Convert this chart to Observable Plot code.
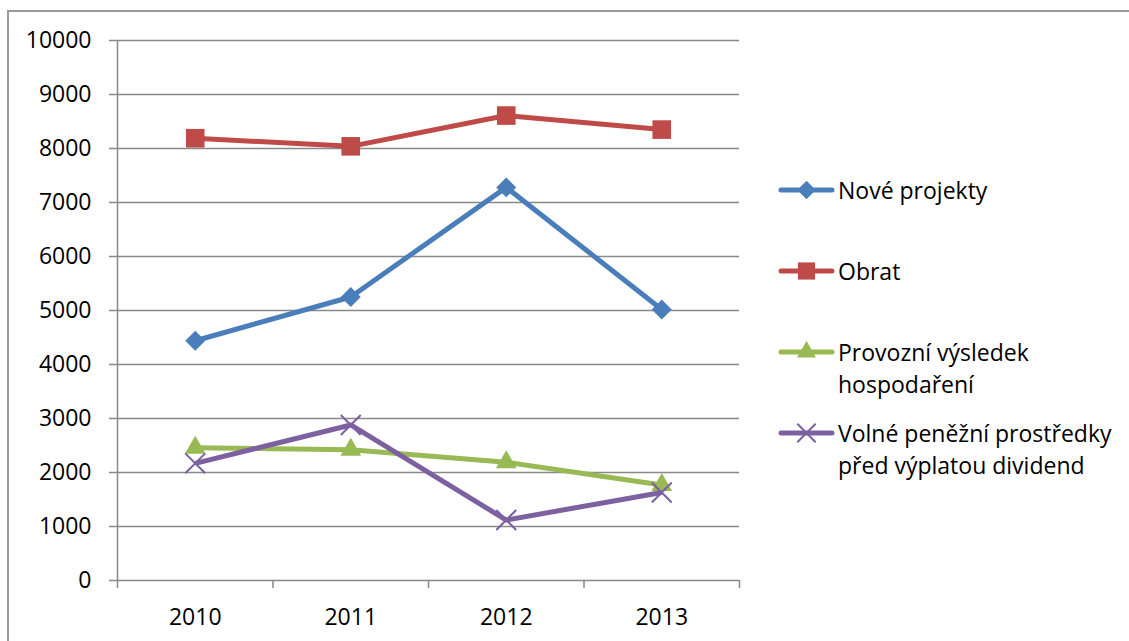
<!DOCTYPE html>
<html>
<head>
<meta charset="utf-8">
<script src="https://cdn.jsdelivr.net/npm/d3@7"></script>
<script src="https://cdn.jsdelivr.net/npm/@observablehq/plot@0.6"></script>
<style>
  html, body { margin: 0; padding: 0; background: #fff; overflow: hidden; }
  #wrap { position: relative; width: 1129px; height: 641px; overflow: hidden; background: #fff; }
  #border { position: absolute; left: 7px; top: 10px; width: 1200px; height: 700px; border-left: 2px solid #9a9a9a; border-top: 2px solid #9a9a9a; box-sizing: border-box; }
  #chart { position: absolute; left: 0; top: 0; }
  #legend { position: absolute; left: 778px; top: 174px; font-family: "Open Sans", sans-serif; font-size: 23px; line-height: 32px; color: #000; }
  .item { display: flex; align-items: flex-start; height: 81px; }
  .item svg { flex: none; }
  .item span { margin-left: 3px; white-space: nowrap; }
</style>
</head>
<body>
<div id="wrap">
  <div id="border"></div>
  <div id="chart"></div>
  <div id="legend"></div>
</div>
<script>
// Data
const categories = ["2010", "2011", "2012", "2013"];
const seriesNames = ["Nové projekty", "Obrat", "Provozní výsledek hospodaření", "Volné peněžní prostředky před výplatou dividend"];
const legendLines = [["Nové projekty"], ["Obrat"], ["Provozní výsledek", "hospodaření"], ["Volné peněžní prostředky", "před výplatou dividend"]];
const noveProjekty = [4440, 5250, 7280, 5020];
const obrat = [8190, 8040, 8610, 8350];
const provozniVysledek = [2460, 2420, 2190, 1770];
const volnePenezniProstredky = [2170, 2880, 1120, 1630];
const yTicks = [0, 1000, 2000, 3000, 4000, 5000, 6000, 7000, 8000, 9000, 10000];

const seriesValues = [noveProjekty, obrat, provozniVysledek, volnePenezniProstredky];
const colors = ["#4a7ebb", "#be4b48", "#98b954", "#7d60a0"];
const symbols = ["diamond2", "square", "triangle2", "times"];
const symbolR = [9, 10.5, 9.9, 9.1];
const d3Symbols = [d3.symbolDiamond2, d3.symbolSquare, d3.symbolTriangle2, d3.symbolTimes];

const rows = [];
seriesValues.forEach((vals, s) => vals.forEach((v, i) => rows.push({series: seriesNames[s], s, i, v})));

const gridColor = "#898989";
const marks = [
  Plot.ruleY(yTicks, {stroke: gridColor, strokeWidth: 1.5}),
  Plot.ruleX([-0.5], {stroke: gridColor, strokeWidth: 1.5}),
  Plot.axisY({ticks: yTicks, tickSize: 8, tickPadding: 18, tickFormat: d => String(d), stroke: gridColor, strokeWidth: 1.5, fill: "#000", label: null}),
  Plot.axisX({ticks: [-0.5, 0.5, 1.5, 2.5, 3.5], tickSize: 8, tickFormat: () => "", stroke: gridColor, strokeWidth: 1.5, label: null}),
  Plot.axisX({ticks: [0, 1, 2, 3], tickSize: 0, tickPadding: 28, tickFormat: i => categories[i], fill: "#000", label: null})
];
seriesNames.forEach((name, s) => {
  const data = rows.filter(d => d.s === s);
  marks.push(Plot.line(data, {x: "i", y: "v", stroke: colors[s], strokeWidth: 5, strokeLinejoin: "round", strokeLinecap: "butt"}));
  if (symbols[s] === "times") {
    marks.push(Plot.dot(data, {x: "i", y: "v", symbol: symbols[s], r: symbolR[s], stroke: colors[s], strokeWidth: 2, fill: "none"}));
  } else {
    marks.push(Plot.dot(data, {x: "i", y: "v", symbol: symbols[s], r: symbolR[s], fill: colors[s], stroke: "none"}));
  }
});

const chart = Plot.plot({
  width: 1129,
  height: 641,
  marginLeft: 117,
  marginRight: 390,
  marginTop: 40,
  marginBottom: 61,
  style: {fontFamily: "Open Sans, sans-serif", fontSize: "23px", color: "#000", background: "transparent", overflow: "visible"},
  x: {type: "linear", domain: [-0.5, 3.5], axis: null},
  y: {domain: [0, 10000], axis: null},
  marks
});
document.getElementById("chart").appendChild(chart);

// Legend
const legend = document.getElementById("legend");
seriesNames.forEach((name, s) => {
  const item = document.createElement("div");
  item.className = "item";
  const svg = d3.create("svg").attr("width", 57).attr("height", 32);
  svg.append("line").attr("x1", 3).attr("x2", 54).attr("y1", 16).attr("y2", 16)
    .attr("stroke", colors[s]).attr("stroke-width", 5).attr("stroke-linecap", "round");
  const size = Math.PI * symbolR[s] * symbolR[s] * 0.85;
  const p = svg.append("path").attr("transform", "translate(28.5,16)").attr("d", d3.symbol(d3Symbols[s], size)());
  if (symbols[s] === "times") p.attr("fill", "none").attr("stroke", colors[s]).attr("stroke-width", 2);
  else p.attr("fill", colors[s]);
  item.appendChild(svg.node());
  const span = document.createElement("span");
  span.innerHTML = legendLines[s].join("<br>");
  item.appendChild(span);
  legend.appendChild(item);
});
</script>
</body>
</html>
